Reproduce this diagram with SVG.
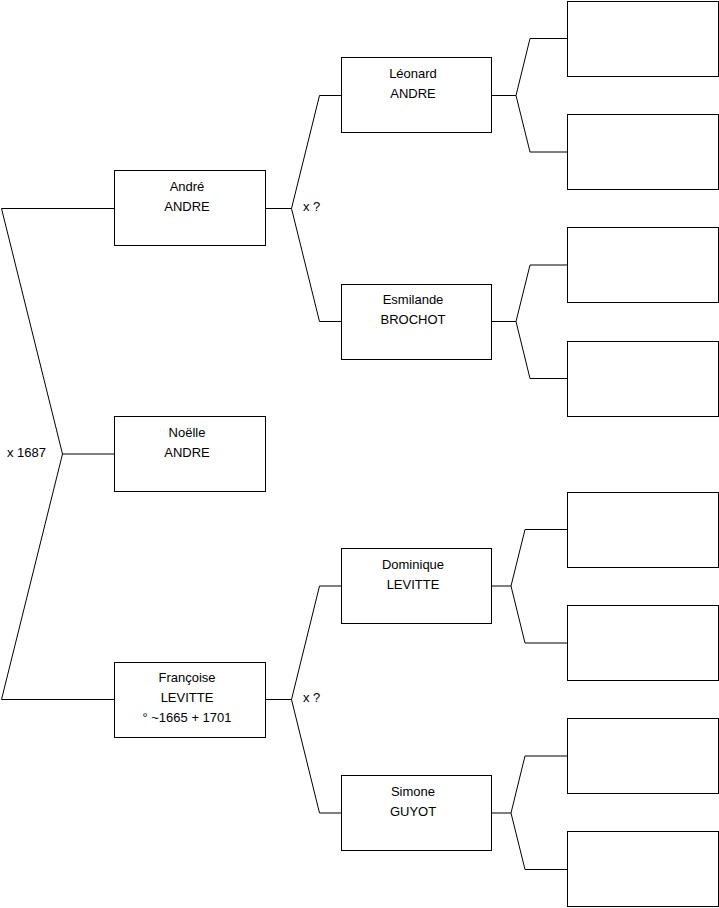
<svg xmlns="http://www.w3.org/2000/svg" width="719" height="908" viewBox="0 0 719 908">
<style>
.b{fill:#fff;stroke:#000;stroke-width:1}
.c{fill:none;stroke:#000;stroke-width:1}
text{font-family:"Liberation Sans",Arial,sans-serif;font-size:13px;fill:#000}
.m{text-anchor:middle}
</style>
<rect width="719" height="908" fill="#fff"/>
<g id="connectors">
<path class="c" d="M114.5 208.5H1.5L62.5 454L1.5 699.5H114.5M62.5 454H114.5"/>
<path class="c" d="M265.5 208.5H291.5L319.5 95.5H341.5M291.5 208.5L319.5 321.5H341.5"/>
<path class="c" d="M265.5 699.5H291.5L319.5 586H341.5M291.5 699.5L319.5 813H341.5"/>
<path class="c" d="M491.5 95.5H516L530 38.5H567.5M516 95.5L530 152H567.5"/>
<path class="c" d="M491.5 321.5H516L530 265H567.5M516 321.5L530 378.5H567.5"/>
<path class="c" d="M491.5 586H511L525 529.5H567.5M511 586L525 643H567.5"/>
<path class="c" d="M491.5 813H511L525 756H567.5M511 813L525 869.5H567.5"/>
<text x="7" y="457">x 1687</text>
<text x="303" y="211">x ?</text>
<text x="303" y="702">x ?</text>
</g>
<g id="andre"><rect class="b" x="114.5" y="170.5" width="151" height="75"/><text class="m" x="187" y="191">André</text><text class="m" x="187" y="211">ANDRE</text></g>
<g id="noelle"><rect class="b" x="114.5" y="416.5" width="151" height="75"/><text class="m" x="187" y="437">Noëlle</text><text class="m" x="187" y="457">ANDRE</text></g>
<g id="francoise"><rect class="b" x="114.5" y="662.5" width="151" height="75"/><text class="m" x="187" y="682">Françoise</text><text class="m" x="187" y="702">LEVITTE</text><text class="m" x="187" y="722">° ~1665 + 1701</text></g>
<g id="leonard"><rect class="b" x="341.5" y="57.5" width="150" height="75"/><text class="m" x="413" y="78">Léonard</text><text class="m" x="413" y="98">ANDRE</text></g>
<g id="esmilande"><rect class="b" x="341.5" y="284.5" width="150" height="75"/><text class="m" x="413" y="304">Esmilande</text><text class="m" x="413" y="324">BROCHOT</text></g>
<g id="dominique"><rect class="b" x="341.5" y="548.5" width="150" height="75"/><text class="m" x="413" y="569">Dominique</text><text class="m" x="413" y="589">LEVITTE</text></g>
<g id="simone"><rect class="b" x="341.5" y="775.5" width="150" height="75"/><text class="m" x="413" y="796">Simone</text><text class="m" x="413" y="816">GUYOT</text></g>
<g id="p1"><rect class="b" x="567.5" y="1.5" width="151" height="75"/></g>
<g id="p2"><rect class="b" x="567.5" y="114.5" width="151" height="75"/></g>
<g id="p3"><rect class="b" x="567.5" y="227.5" width="151" height="75"/></g>
<g id="p4"><rect class="b" x="567.5" y="341.5" width="151" height="75"/></g>
<g id="p5"><rect class="b" x="567.5" y="492.5" width="151" height="75"/></g>
<g id="p6"><rect class="b" x="567.5" y="605.5" width="151" height="75"/></g>
<g id="p7"><rect class="b" x="567.5" y="718.5" width="151" height="75"/></g>
<g id="p8"><rect class="b" x="567.5" y="831.5" width="151" height="75"/></g>
</svg>
